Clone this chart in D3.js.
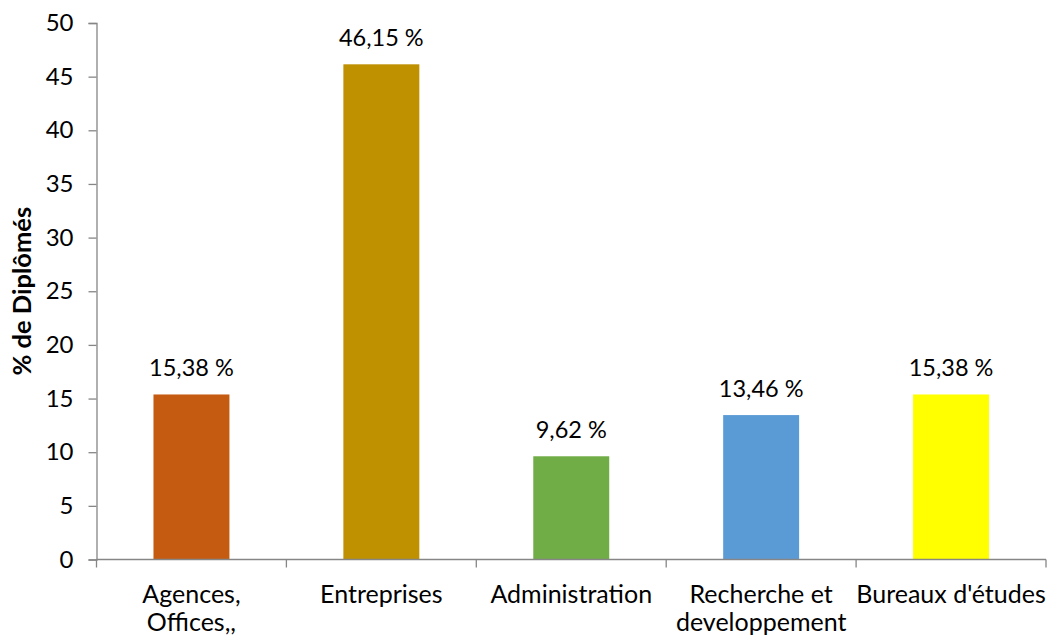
<!DOCTYPE html>
<html>
<head>
<meta charset="utf-8">
<script src="https://cdn.jsdelivr.net/npm/d3@7"></script>
<style>
  html, body { margin: 0; padding: 0; background: #fff; }
  svg { display: block; }
  text { font-family: Lato, "Open Sans", sans-serif; fill: #000; }
</style>
</head>
<body>
<svg id="chart" width="1047" height="639"></svg>
<script>
// Employment sectors of graduates
const categories = [["Agences,", "Offices,,"], ["Entreprises"], ["Administration"], ["Recherche et", "developpement"], ["Bureaux d'études"]];
const values = [15.38, 46.15, 9.62, 13.46, 15.38];
const valueLabels = ["15,38 %", "46,15 %", "9,62 %", "13,46 %", "15,38 %"];
const colors = ["#C55A11", "#BF9000", "#70AD47", "#5B9BD5", "#FFFF00"];
const yTicks = [0, 5, 10, 15, 20, 25, 30, 35, 40, 45, 50];
const yTitle = "% de Diplômés";

const svg = d3.select("#chart");
const margin = { left: 96.5, right: 1, top: 23, bottom: 79.5 };
const W = 1047, H = 639;
const x0 = margin.left, x1 = W - margin.right;
const yTop = margin.top, yBottom = H - margin.bottom;

const idx = categories.map((d, i) => i);
const x = d3.scaleBand().domain(idx).range([x0, x1]).paddingInner(0).paddingOuter(0);
const y = d3.scaleLinear().domain([0, 50]).range([yBottom, yTop]);
const axisColor = "#868686";

// Bars
const barW = x.bandwidth() * 0.4;
svg.append("g").selectAll("rect").data(values).join("rect")
  .attr("x", (d, i) => x(i) + (x.bandwidth() - barW) / 2)
  .attr("y", d => y(d))
  .attr("width", barW)
  .attr("height", d => y(0) - y(d))
  .attr("fill", (d, i) => colors[i]);

// Value labels
svg.append("g").selectAll("text").data(values).join("text")
  .attr("x", (d, i) => x(i) + x.bandwidth() / 2)
  .attr("y", d => y(d) - 18)
  .attr("text-anchor", "middle")
  .style("font-size", "23.5px")
  .text((d, i) => valueLabels[i]);

// Y axis
const yAxis = svg.append("g")
  .attr("transform", `translate(${x0},0)`)
  .call(d3.axisLeft(y).tickValues(yTicks).tickSize(8).tickPadding(15));
yAxis.select(".domain").attr("stroke", axisColor).attr("stroke-width", 1.3);
yAxis.selectAll(".tick line").attr("stroke", axisColor).attr("stroke-width", 1.3);
yAxis.selectAll(".tick text").style("font-size", "24px").style("font-family", "Lato, sans-serif").attr("fill", "#000");

// X axis line with boundary ticks
const xAxisG = svg.append("g").attr("transform", `translate(0,${yBottom})`);
xAxisG.append("line")
  .attr("x1", x0).attr("x2", x1)
  .attr("stroke", axisColor).attr("stroke-width", 1.3);
const boundaries = idx.map(i => x(i)).concat([x(idx[idx.length - 1]) + x.step()]);
xAxisG.selectAll("line.tick").data(boundaries).join("line")
  .attr("class", "tick")
  .attr("x1", d => d).attr("x2", d => d)
  .attr("y1", 0).attr("y2", 8)
  .attr("stroke", axisColor).attr("stroke-width", 1.3);

// Category labels
const catG = xAxisG.selectAll("text.cat").data(categories).join("text")
  .attr("class", "cat")
  .attr("text-anchor", "middle")
  .style("font-size", "25px")
  .attr("transform", (d, i) => `translate(${x(i) + x.bandwidth() / 2},0)`);
catG.selectAll("tspan").data(d => d).join("tspan")
  .attr("x", 0)
  .attr("y", (d, j) => 43 + j * 28)
  .text(d => d);

// Y axis title
svg.append("text")
  .attr("transform", `translate(31,${(yTop + yBottom) / 2}) rotate(-90)`)
  .attr("text-anchor", "middle")
  .style("font-size", "25.5px")
  .style("font-weight", "bold")
  .text(yTitle);
</script>
</body>
</html>
